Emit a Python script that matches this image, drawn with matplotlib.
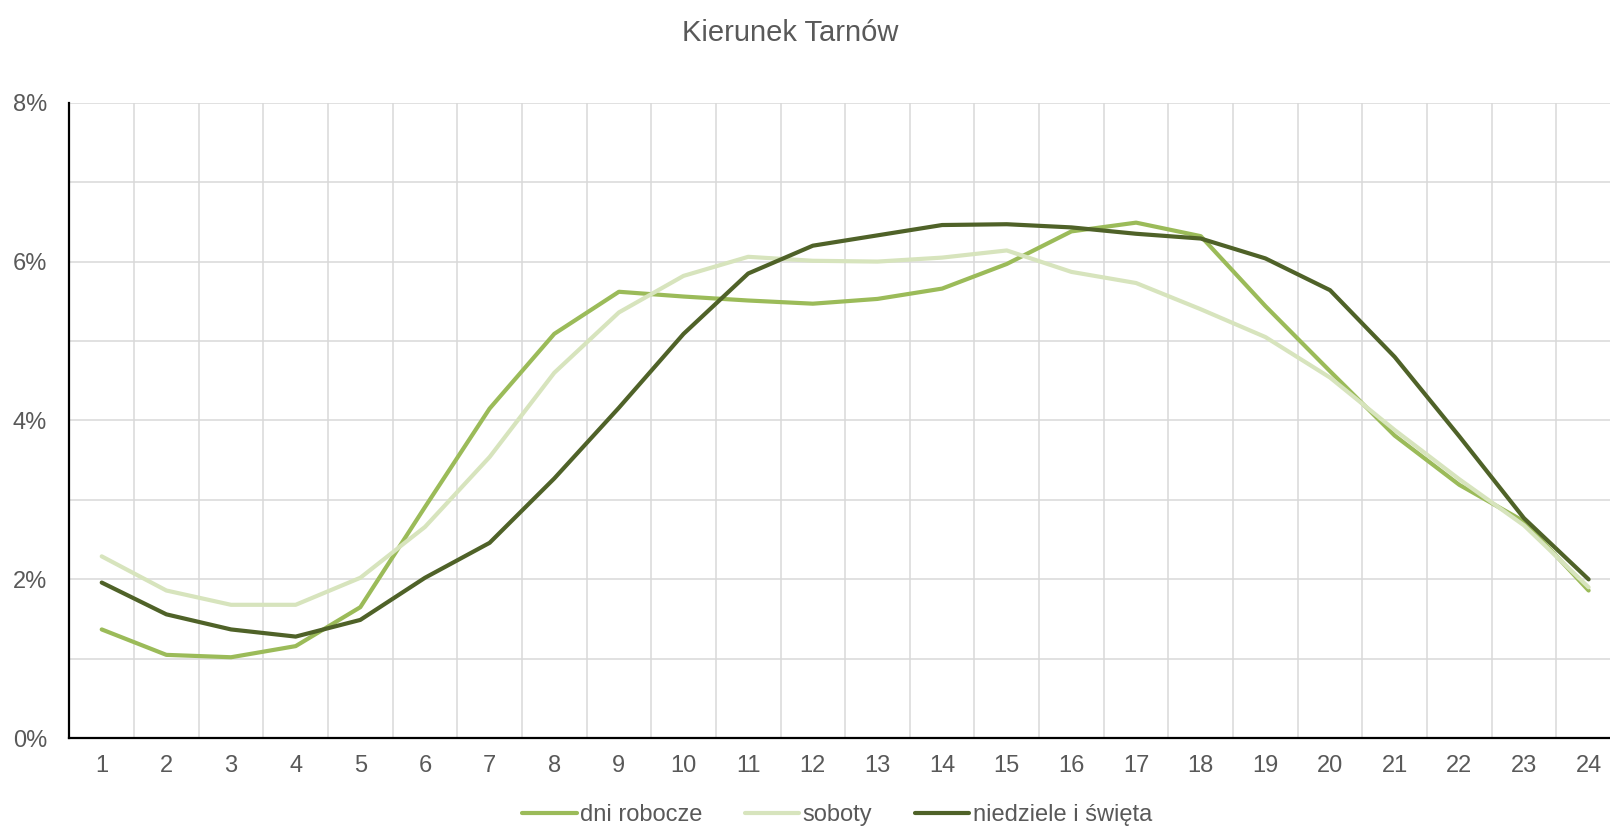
import matplotlib
matplotlib.use("Agg")
import matplotlib.pyplot as plt
from matplotlib.ticker import MultipleLocator, FuncFormatter

plt.rcParams["font.family"] = ["Liberation Sans", "DejaVu Sans"]

# hours of the day
hours = list(range(1, 25))

# share of daily traffic [%]
dni_robocze = [1.37, 1.05, 1.02, 1.16, 1.65, 2.91, 4.15, 5.09, 5.62, 5.56, 5.51, 5.47,
               5.53, 5.66, 5.97, 6.38, 6.49, 6.32, 5.44, 4.62, 3.81, 3.19, 2.73, 1.86]
soboty = [2.29, 1.86, 1.68, 1.68, 2.02, 2.66, 3.54, 4.60, 5.36, 5.82, 6.06, 6.01,
          6.00, 6.05, 6.14, 5.87, 5.73, 5.40, 5.05, 4.54, 3.88, 3.26, 2.68, 1.90]
niedziele = [1.96, 1.56, 1.37, 1.28, 1.49, 2.02, 2.46, 3.27, 4.16, 5.09, 5.85, 6.20,
             6.33, 6.46, 6.47, 6.43, 6.35, 6.29, 6.04, 5.64, 4.80, 3.80, 2.77, 2.00]

series = [
    ("dni robocze", dni_robocze, "#9bbb59"),
    ("soboty", soboty, "#d7e4bd"),
    ("niedziele i święta", niedziele, "#4f6228"),
]

grey = "#595959"

fig = plt.figure(figsize=(16.1, 8.3), dpi=100)
ax = fig.add_axes([0.0431, 0.1105, 0.9637, 0.7658])

for name, vals, col in series:
    ax.plot(hours, vals, color=col, lw=3, label=name, solid_capstyle="round", zorder=3)

ax.set_xlim(0.5, 24.5)
ax.set_ylim(0, 8)

# grid: horizontal every 1 %, vertical between categories
ax.yaxis.set_major_locator(MultipleLocator(2))
ax.yaxis.set_minor_locator(MultipleLocator(1))
ax.set_xticks(hours)
ax.set_xticks([h + 0.5 for h in hours[:-1]], minor=True)
ax.yaxis.grid(True, which="both", color="#d9d9d9", lw=1.1, zorder=0)
ax.xaxis.grid(True, which="minor", color="#d9d9d9", lw=1.1, zorder=0)
ax.xaxis.grid(False, which="major")
ax.yaxis.set_major_formatter(FuncFormatter(lambda v, p: f"{v:.0f}%"))

ax.tick_params(which="both", length=0)
ax.tick_params(axis="y", pad=16, labelsize=17, labelcolor=grey)
ax.tick_params(axis="x", pad=12, labelsize=17, labelcolor=grey)

for s in ["top", "right"]:
    ax.spines[s].set_visible(False)
for s in ["left", "bottom"]:
    ax.spines[s].set_color("black")
    ax.spines[s].set_linewidth(1.6)

fig.text(0.491, 0.96, "Kierunek Tarnów", ha="center", va="center", fontsize=21, color=grey)

leg = fig.legend(loc="center", bbox_to_anchor=(0.520, 0.018), ncol=3, frameon=False,
                 fontsize=17, handlelength=2.3, handletextpad=0.15, columnspacing=1.8)
for t in leg.get_texts():
    t.set_color(grey)

fig.savefig("out.png", dpi=100)
